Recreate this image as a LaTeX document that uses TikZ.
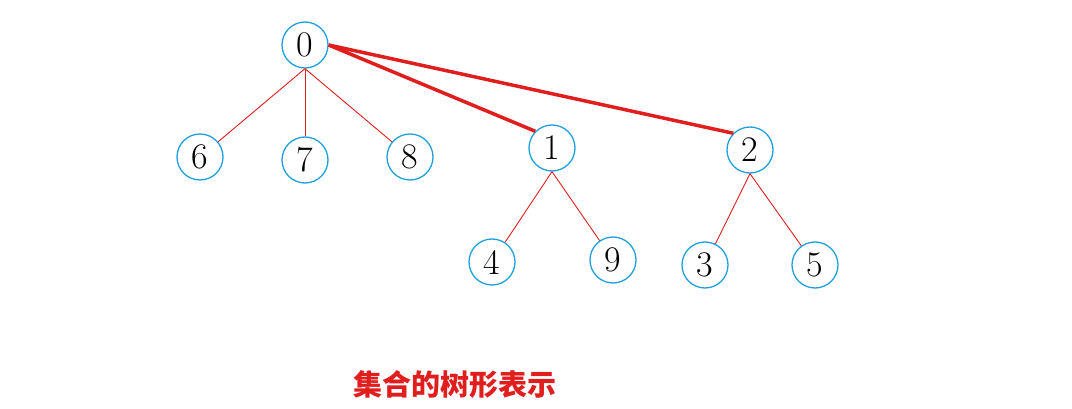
\documentclass[tikz,border=0pt]{standalone}
\usepackage{fontspec}
\newfontfamily\cjk{Noto Sans CJK SC}
\definecolor{ringblue}{RGB}{30,160,220}
\definecolor{linkred}{RGB}{225,30,30}
\begin{document}
\begin{tikzpicture}[x=1pt,y=-1pt]
    \tikzstyle{every node}=[font=\fontsize{36}{38}\selectfont]
    \tikzstyle{elem}=[circle, draw=ringblue, line width=1.3pt, minimum size=46pt, inner sep=0pt]
    \tikzstyle{link}=[linkred, line width=0.9pt]
    \useasboundingbox (0,0) rectangle (1072,409);

    % Tree of 0
    \node[elem] at (305,45) (n0) {0};
    \node[elem] at (200,157) (n6) {6};
    \node[elem] at (305,160) (n7) {7};
    \node[elem] at (410,157) (n8) {8};

    \draw[link] (n0.south) -- (n6);
    \draw[link] (n0.south) -- (n7);
    \draw[link] (n0.south) -- (n8);

    % Subtrees 1 and 2
    \node[elem] at (552,148) (n1) {1};
    \node[elem] at (750,150) (n2) {2};
    \node[elem] at (492,262) (n4) {4};
    \node[elem] at (613,260) (n9) {9};
    \node[elem] at (705,265) (n3) {3};
    \node[elem] at (815,265) (n5) {5};

    \draw[link] (n1.south) -- (n4);
    \draw[link] (n1.south) -- (n9);
    \draw[link] (n2.south) -- (n3);
    \draw[link] (n2.south) -- (n5);

    % Union links
    \draw[linkred, line width=3.5pt] (n0.east) -- (n1.north west);
    \draw[linkred, line width=3.5pt] (n0.east) -- (n2.north west);

    % Caption
    \node[font=\cjk\fontsize{29}{31}\selectfont\bfseries, text=linkred] at (455,385) (cap) {集合的树形表示};
\end{tikzpicture}
\end{document}
